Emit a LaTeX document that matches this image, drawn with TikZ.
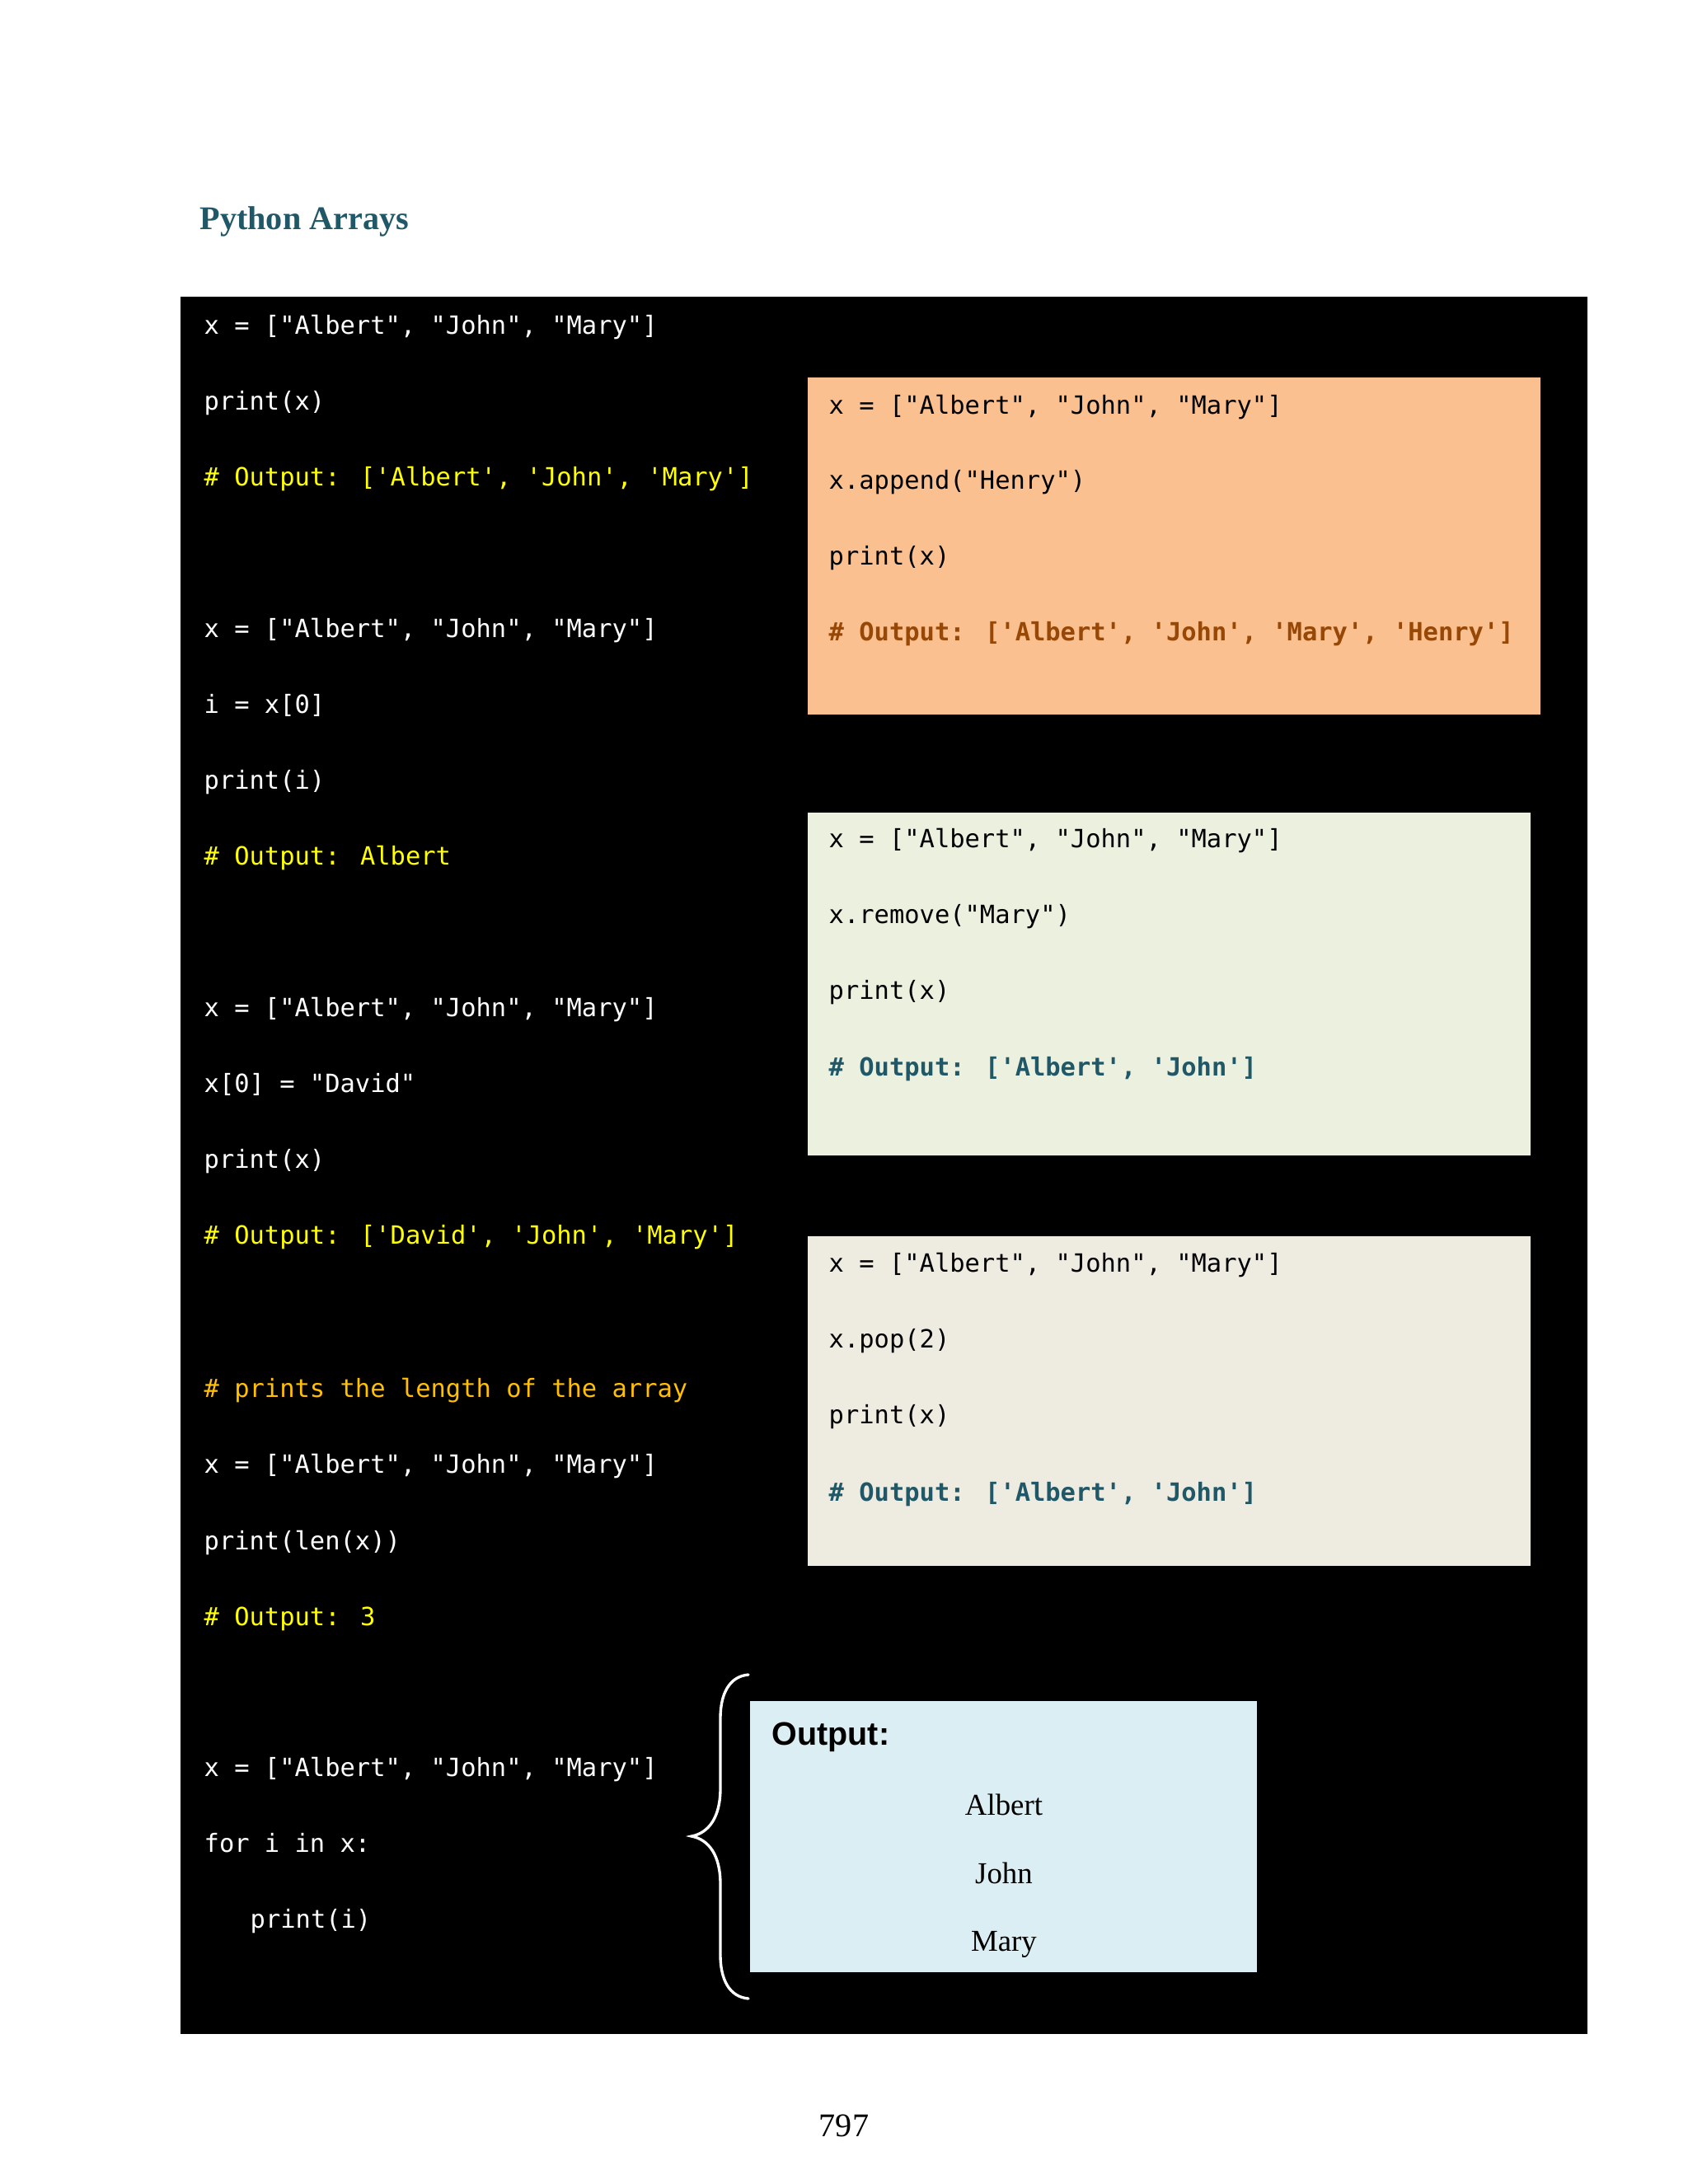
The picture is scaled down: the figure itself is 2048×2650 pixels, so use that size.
\documentclass[tikz,border=0pt]{standalone}
\usepackage{fontspec}
\setmainfont{Liberation Serif}
\setsansfont{Liberation Sans}
\newfontfamily\codefont{DejaVu Sans Mono}
\definecolor{titleteal}{HTML}{215868}
\definecolor{codeyellow}{HTML}{FFFF00}
\definecolor{codeamber}{HTML}{FFC000}
\definecolor{boxorange}{HTML}{FAC090}
\definecolor{boxgreen}{HTML}{EBF1DE}
\definecolor{boxbeige}{HTML}{EEECE1}
\definecolor{boxblue}{HTML}{DBEEF3}
\definecolor{cmtbrown}{HTML}{984806}
\definecolor{cmtteal}{HTML}{215868}
\begin{document}
\begin{tikzpicture}[x=0.29883pt,y=-0.29883pt,
  code/.style={anchor=base west,inner sep=0pt,font=\codefont\fontsize{9.1pt}{10pt}\selectfont},
  wcode/.style={code,text=white},
  ycmt/.style={code,text=codeyellow},
  acmt/.style={code,text=codeamber},
  bcode/.style={code,text=black},
  bcmt/.style={code,font=\codefont\bfseries\fontsize{9.1pt}{10pt}\selectfont},
  listitem/.style={anchor=base,inner sep=0pt,font=\fontsize{11pt}{13pt}\selectfont}]
\useasboundingbox (0,0) rectangle (2048,2650);
\fill[white] (0,0) rectangle (2048,2650);
% title
\node[anchor=base west,inner sep=0pt,text=titleteal,font=\bfseries\fontsize{12pt}{14pt}\selectfont] (title) at (242,278) {Python Arrays};
% black code panel
\fill[black] (219,360) rectangle (1926,2468);
% left column
\node[wcode] (l1) at (247,405) {x = ["Albert", "John", "Mary"]};
\node[wcode] (l2) at (247,497) {print(x)};
\node[ycmt] (l3) at (247,589) {\# Output: ['Albert', 'John', 'Mary']};
\node[wcode] (l4) at (247,773) {x = ["Albert", "John", "Mary"]};
\node[wcode] (l5) at (247,865) {i = x[0]};
\node[wcode] (l6) at (247,957) {print(i)};
\node[ycmt] (l7) at (247,1049) {\# Output: Albert};
\node[wcode] (l8) at (247,1233) {x = ["Albert", "John", "Mary"]};
\node[wcode] (l9) at (247,1325) {x[0] = "David"};
\node[wcode] (l10) at (247,1417) {print(x)};
\node[ycmt] (l11) at (247,1509) {\# Output: ['David', 'John', 'Mary']};
\node[acmt] (l12) at (247,1695) {\# prints the length of the array};
\node[wcode] (l13) at (247,1787) {x = ["Albert", "John", "Mary"]};
\node[wcode] (l14) at (247,1880) {print(len(x))};
\node[ycmt] (l15) at (247,1972) {\# Output: 3};
\node[wcode] (l16) at (247,2155) {x = ["Albert", "John", "Mary"]};
\node[wcode] (l17) at (247,2247) {for i in x:};
\node[wcode] (l18) at (303,2339) {print(i)};
% orange panel
\fill[boxorange] (980,458) rectangle (1869,867);
\node[bcode] (o1) at (1005,502) {x = ["Albert", "John", "Mary"]};
\node[bcode] (o2) at (1005,593) {x.append("Henry")};
\node[bcode] (o3) at (1005,685) {print(x)};
\node[bcmt,text=cmtbrown] (o4) at (1005,777) {\# Output: ['Albert', 'John', 'Mary', 'Henry']};
% green panel
\fill[boxgreen] (980,986) rectangle (1857,1402);
\node[bcode] (g1) at (1005,1028) {x = ["Albert", "John", "Mary"]};
\node[bcode] (g2) at (1005,1120) {x.remove("Mary")};
\node[bcode] (g3) at (1005,1212) {print(x)};
\node[bcmt,text=cmtteal] (g4) at (1005,1305) {\# Output: ['Albert', 'John']};
% beige panel
\fill[boxbeige] (980,1500) rectangle (1857,1900);
\node[bcode] (b1) at (1005,1543) {x = ["Albert", "John", "Mary"]};
\node[bcode] (b2) at (1005,1635) {x.pop(2)};
\node[bcode] (b3) at (1005,1727) {print(x)};
\node[bcmt,text=cmtteal] (b4) at (1005,1821) {\# Output: ['Albert', 'John']};
% output panel
\fill[boxblue] (910,2064) rectangle (1525,2393);
\node[anchor=base west,inner sep=0pt,font=\sffamily\bfseries\fontsize{11.8pt}{14pt}\selectfont] (outlbl) at (936,2117) {Output:};
\node[listitem] (r1) at (1218,2202) {Albert};
\node[listitem] (r2) at (1218,2285) {John};
\node[listitem] (r3) at (1218,2367) {Mary};
% brace
\coordinate (btop) at (908,2032);
\coordinate (btip) at (839,2228);
\coordinate (bbot) at (908,2425);
\draw[white,line width=1pt,line cap=round]
  (btop) .. controls (885,2034) and (874,2055) .. (874,2085)
  -- (874,2170) .. controls (874,2205) and (860,2224) .. (btip)
  .. controls (860,2232) and (874,2251) .. (874,2286)
  -- (874,2372) .. controls (874,2402) and (885,2423) .. (bbot);
% page number
\node[anchor=base,inner sep=0pt,font=\fontsize{12pt}{14pt}\selectfont] (pagenum) at (1024,2592) {797};
\end{tikzpicture}
\end{document}
